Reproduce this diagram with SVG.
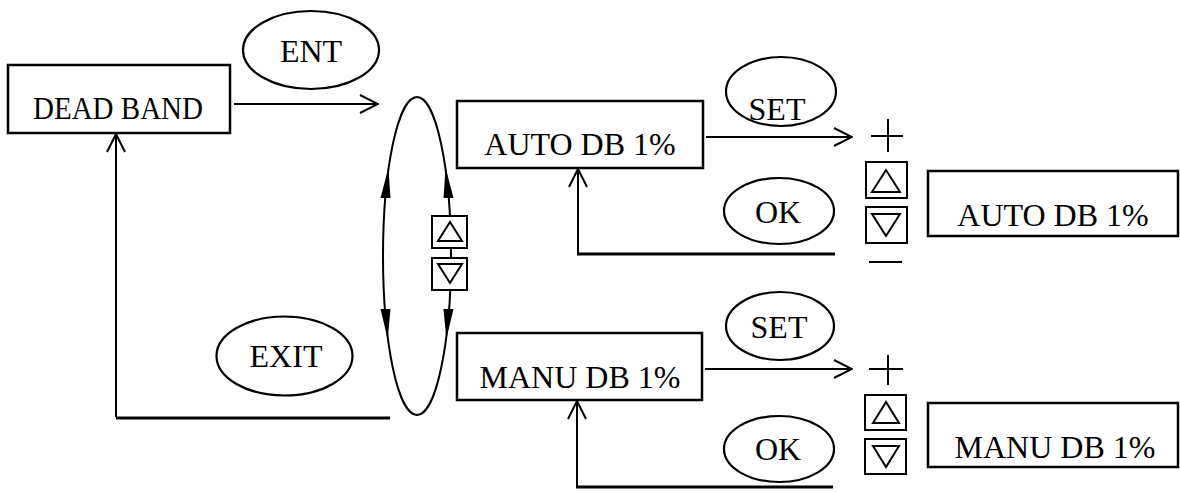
<svg xmlns="http://www.w3.org/2000/svg" width="1180" height="492" viewBox="0 0 1180 492">
<style>
.box{fill:#fff;stroke:#000;stroke-width:2.5}
.ov{fill:#fff;stroke:#000;stroke-width:2.2}
.ln{fill:none;stroke:#000;stroke-width:2}
.thick{fill:none;stroke:#000;stroke-width:3}
.t{font-family:"Liberation Serif","Times New Roman",serif;font-size:32px;fill:#000;text-anchor:middle}
.btn{fill:#fff;stroke:#000;stroke-width:2}
.tri{fill:none;stroke:#000;stroke-width:2}
.ah{fill:#000;stroke:none}
</style>
<defs>
<marker id="open" viewBox="0 0 20 20" refX="19" refY="10" markerWidth="20" markerHeight="20" markerUnits="userSpaceOnUse" orient="auto">
<path d="M1,1 L19,10 L1,19" fill="none" stroke="#000" stroke-width="2"/>
</marker>
</defs>
<g id="connectors">
<line class="ln" x1="234" y1="104" x2="378" y2="104" marker-end="url(#open)"/>
<polyline class="ln" points="116,417 116,134" marker-end="url(#open)"/>
<line class="thick" x1="116" y1="418" x2="390" y2="418"/>
<ellipse class="ln" cx="417" cy="256" rx="34" ry="159"/>
<polygon class="ah" points="388.4,168 390.5,198 380.5,198"/>
<polygon class="ah" points="445.6,168 453.5,198 443.5,198"/>
<polygon class="ah" points="387.7,339 380.5,309 390.5,309"/>
<polygon class="ah" points="446.3,339 443.5,309 453.5,309"/>
<line class="ln" x1="706" y1="137" x2="852" y2="137" marker-end="url(#open)"/>
<polyline class="ln" points="578,254 578,169" marker-end="url(#open)"/>
<line class="thick" x1="577" y1="254" x2="835" y2="254"/>
<line class="ln" x1="705" y1="369" x2="852" y2="369" marker-end="url(#open)"/>
<polyline class="ln" points="577,487 577,401" marker-end="url(#open)"/>
<line class="thick" x1="576" y1="487" x2="833" y2="487"/>
</g>
<g id="dead-band">
<rect class="box" x="8" y="65" width="222" height="68"/>
<text class="t" x="118" y="119" textLength="170" lengthAdjust="spacingAndGlyphs">DEAD BAND</text>
</g>
<g id="ent">
<ellipse class="ov" cx="311" cy="50" rx="68" ry="39"/>
<text class="t" x="311" y="62">ENT</text>
</g>
<g id="exit">
<ellipse class="ov" cx="284.5" cy="356" rx="68" ry="39.5"/>
<text class="t" x="286" y="367">EXIT</text>
</g>
<g id="cycle-buttons">
<rect class="btn" x="432" y="216" width="35" height="32"/>
<polygon class="tri" points="450,222 438,241 462,241"/>
<rect class="btn" x="432" y="258" width="35" height="32"/>
<polygon class="tri" points="438,264 462,264 450,283"/>
</g>
<g id="auto-db">
<rect class="box" x="457" y="101" width="246" height="67"/>
<text class="t" x="580" y="155">AUTO DB 1%</text>
</g>
<g id="set-auto">
<ellipse class="ov" cx="781" cy="91.5" rx="55" ry="34.5" style="fill:none"/>
<text class="t" x="777" y="120">SET</text>
</g>
<g id="ok-auto">
<ellipse class="ov" cx="779" cy="211" rx="55" ry="33"/>
<text class="t" x="778" y="223">OK</text>
</g>
<g id="adjust-auto">
<line class="ln" x1="871" y1="136" x2="903" y2="136"/>
<line class="ln" x1="888" y1="119" x2="888" y2="152"/>
<rect class="btn" x="866" y="162" width="41" height="36"/>
<polygon class="tri" points="886,170 872,192 900,192"/>
<rect class="btn" x="866" y="207" width="41" height="36"/>
<polygon class="tri" points="872,214 900,214 886,236"/>
<line class="ln" x1="869" y1="262" x2="902" y2="262"/>
</g>
<g id="auto-db-edit">
<rect class="box" x="928" y="171" width="250" height="65"/>
<text class="t" x="1053" y="226">AUTO DB 1%</text>
</g>
<g id="manu-db">
<rect class="box" x="457" y="333" width="245" height="67"/>
<text class="t" x="580" y="388">MANU DB 1%</text>
</g>
<g id="set-manu">
<ellipse class="ov" cx="780" cy="326" rx="54" ry="34"/>
<text class="t" x="779" y="338">SET</text>
</g>
<g id="ok-manu">
<ellipse class="ov" cx="779" cy="449" rx="55" ry="33"/>
<text class="t" x="778" y="460">OK</text>
</g>
<g id="adjust-manu">
<line class="ln" x1="869" y1="369" x2="903" y2="369"/>
<line class="ln" x1="888" y1="355" x2="888" y2="385"/>
<rect class="btn" x="865" y="395" width="41" height="35"/>
<polygon class="tri" points="886,402 873,423 899,423"/>
<rect class="btn" x="865" y="439" width="41" height="35"/>
<polygon class="tri" points="873,446 899,446 886,467"/>
</g>
<g id="manu-db-edit">
<rect class="box" x="928" y="403" width="250" height="64"/>
<text class="t" x="1055" y="458">MANU DB 1%</text>
</g>
</svg>
